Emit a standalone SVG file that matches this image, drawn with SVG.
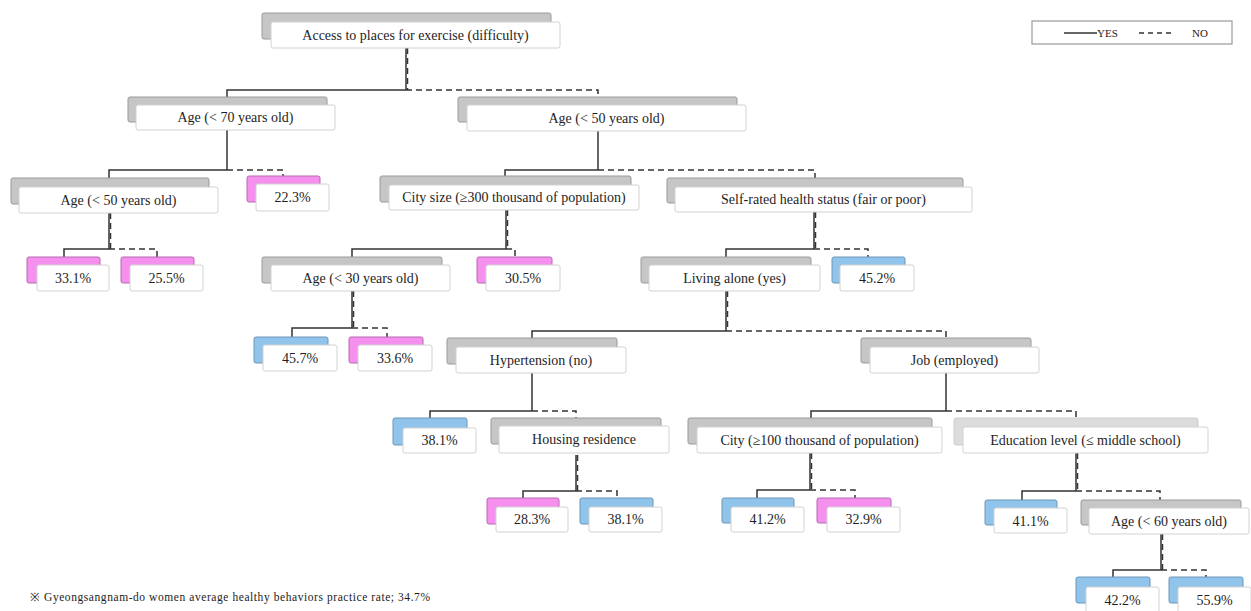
<svg xmlns="http://www.w3.org/2000/svg" width="1251" height="611" viewBox="0 0 1251 611">
<style>
.bk{fill:#c6c6c6;stroke:#9a9a9a;stroke-width:1}
.bk2{fill:#dcdcdc;stroke:#cfcfcf;stroke-width:1}
.pk{fill:#f590ee;stroke:#b56ab0;stroke-width:1}
.bl{fill:#90c4ea;stroke:#6a97b8;stroke-width:1}
.fr{fill:#ffffff;stroke:#d2d2d2;stroke-width:1}
.t{font-family:'Liberation Serif','DejaVu Serif',serif;font-size:14px;fill:#1e1e1e;text-anchor:middle}
.s{fill:none;stroke:#333;stroke-width:1.5}
.d{fill:none;stroke:#333;stroke-width:1.5;stroke-dasharray:6 4}
.lg{font-family:'Liberation Serif','DejaVu Serif',serif;font-size:11px;fill:#222}
.fn{font-family:'Liberation Serif','DejaVu Serif',serif;font-size:11.5px;fill:#222}
</style>
<rect x="0" y="0" width="1251" height="611" fill="#ffffff"/>
<g id="connectors">
<line class="s" x1="406" y1="48" x2="406" y2="90"/><line class="d" x1="407.5" y1="48" x2="407.5" y2="90"/>
<polyline class="s" points="406,90 227,90 227,97"/><polyline class="d" points="406,90 598,90 598,97"/>
<line class="s" x1="227" y1="130" x2="227" y2="170"/>
<polyline class="s" points="227,170 109,170 109,178"/><polyline class="d" points="227,170 283,170 283,176"/>
<line class="s" x1="109" y1="213" x2="109" y2="249"/><line class="d" x1="110.5" y1="213" x2="110.5" y2="249"/>
<polyline class="s" points="109,249 64,249 64,257"/><polyline class="d" points="109,249 157,249 157,257"/>
<line class="s" x1="598" y1="131" x2="598" y2="170"/>
<polyline class="s" points="598,170 505,170 505,176"/><polyline class="d" points="598,170 815,170 815,178"/>
<line class="s" x1="506" y1="210" x2="506" y2="249"/><line class="d" x1="507.5" y1="210" x2="507.5" y2="249"/>
<polyline class="s" points="506,249 352,249 352,257"/><polyline class="d" points="506,249 515,249 515,257"/>
<line class="s" x1="352" y1="291" x2="352" y2="328"/><line class="d" x1="353.5" y1="291" x2="353.5" y2="328"/>
<polyline class="s" points="352,328 292,328 292,337"/><polyline class="d" points="352,328 387,328 387,337"/>
<line class="s" x1="814" y1="212" x2="814" y2="249"/><line class="d" x1="815.5" y1="212" x2="815.5" y2="249"/>
<polyline class="s" points="814,249 726,249 726,257"/><polyline class="d" points="814,249 868,249 868,257"/>
<line class="s" x1="726" y1="291" x2="726" y2="331"/><line class="d" x1="727.5" y1="291" x2="727.5" y2="331"/>
<polyline class="s" points="726,331 532,331 532,338"/><polyline class="d" points="726,331 946,331 946,338"/>
<line class="s" x1="532" y1="373" x2="532" y2="411"/>
<polyline class="s" points="532,411 430,411 430,418"/><polyline class="d" points="532,411 576,411 576,418"/>
<line class="s" x1="576" y1="455" x2="576" y2="491"/><line class="d" x1="577.5" y1="455" x2="577.5" y2="491"/>
<polyline class="s" points="576,491 523,491 523,498"/><polyline class="d" points="576,491 617,491 617,498"/>
<line class="s" x1="946" y1="373" x2="946" y2="411"/>
<polyline class="s" points="946,411 811,411 811,418"/><polyline class="d" points="946,411 1076,411 1076,418"/>
<line class="s" x1="810" y1="453" x2="810" y2="490"/><line class="d" x1="811.5" y1="453" x2="811.5" y2="490"/>
<polyline class="s" points="810,490 757,490 757,498"/><polyline class="d" points="810,490 855,490 855,498"/>
<line class="s" x1="1076" y1="453" x2="1076" y2="491"/><line class="d" x1="1077.5" y1="453" x2="1077.5" y2="491"/>
<polyline class="s" points="1076,491 1022,491 1022,500"/><polyline class="d" points="1076,491 1160,491 1160,500"/>
<line class="s" x1="1161" y1="534" x2="1161" y2="570"/><line class="d" x1="1162.5" y1="534" x2="1162.5" y2="570"/>
<polyline class="s" points="1161,570 1113,570 1113,577"/><polyline class="d" points="1161,570 1206,570 1206,577"/>
</g>
<g id="n-root"><rect class="bk" x="262" y="13" width="289" height="26" rx="2"/><rect class="fr" x="271" y="22" width="289" height="26" rx="2"/><text class="t" x="415.5" y="40">Access to places for exercise (difficulty)</text></g>
<g id="n-age70"><rect class="bk" x="128" y="97" width="199" height="25" rx="2"/><rect class="fr" x="136" y="105" width="199" height="25" rx="2"/><text class="t" x="235.5" y="122">Age (&lt; 70 years old)</text></g>
<g id="n-age50l"><rect class="bk" x="11" y="178" width="198" height="26" rx="2"/><rect class="fr" x="19" y="187" width="199" height="26" rx="2"/><text class="t" x="118.5" y="205">Age (&lt; 50 years old)</text></g>
<g id="n-223"><rect class="pk" x="247" y="176" width="73" height="26" rx="2"/><rect class="fr" x="256" y="184" width="73" height="27" rx="2"/><text class="t" x="292.5" y="202">22.3%</text></g>
<g id="n-331"><rect class="pk" x="27" y="257" width="73" height="26" rx="2"/><rect class="fr" x="37" y="265" width="72" height="26" rx="2"/><text class="t" x="73" y="283">33.1%</text></g>
<g id="n-255"><rect class="pk" x="121" y="257" width="73" height="26" rx="2"/><rect class="fr" x="130" y="265" width="73" height="26" rx="2"/><text class="t" x="166.5" y="283">25.5%</text></g>
<g id="n-age50r"><rect class="bk" x="458" y="97" width="279" height="25" rx="2"/><rect class="fr" x="467" y="105" width="279" height="26" rx="2"/><text class="t" x="606.5" y="123">Age (&lt; 50 years old)</text></g>
<g id="n-citysize"><rect class="bk" x="380" y="176" width="251" height="26" rx="2"/><rect class="fr" x="389" y="185" width="250" height="25" rx="2"/><text class="t" x="514" y="202">City size (≥300 thousand of population)</text></g>
<g id="n-age30"><rect class="bk" x="262" y="257" width="180" height="26" rx="2"/><rect class="fr" x="271" y="265" width="179" height="26" rx="2"/><text class="t" x="360.5" y="283">Age (&lt; 30 years old)</text></g>
<g id="n-305"><rect class="pk" x="477" y="257" width="75" height="26" rx="2"/><rect class="fr" x="486" y="265" width="74" height="26" rx="2"/><text class="t" x="523" y="283">30.5%</text></g>
<g id="n-457"><rect class="bl" x="254" y="337" width="74" height="26" rx="2"/><rect class="fr" x="263" y="345" width="74" height="26" rx="2"/><text class="t" x="300" y="363">45.7%</text></g>
<g id="n-336"><rect class="pk" x="349" y="337" width="74" height="26" rx="2"/><rect class="fr" x="358" y="345" width="74" height="26" rx="2"/><text class="t" x="395" y="363">33.6%</text></g>
<g id="n-selfrated"><rect class="bk" x="667" y="178" width="296" height="25" rx="2"/><rect class="fr" x="675" y="187" width="297" height="25" rx="2"/><text class="t" x="823.5" y="204">Self-rated health status (fair or poor)</text></g>
<g id="n-living"><rect class="bk" x="641" y="257" width="170" height="26" rx="2"/><rect class="fr" x="649" y="265" width="171" height="26" rx="2"/><text class="t" x="734.5" y="283">Living alone (yes)</text></g>
<g id="n-452"><rect class="bl" x="832" y="257" width="73" height="26" rx="2"/><rect class="fr" x="840" y="265" width="74" height="26" rx="2"/><text class="t" x="877" y="283">45.2%</text></g>
<g id="n-hyper"><rect class="bk" x="447" y="338" width="170" height="26" rx="2"/><rect class="fr" x="456" y="347" width="170" height="26" rx="2"/><text class="t" x="541" y="365">Hypertension (no)</text></g>
<g id="n-381l"><rect class="bl" x="393" y="418" width="74" height="27" rx="2"/><rect class="fr" x="403" y="428" width="73" height="25" rx="2"/><text class="t" x="439.5" y="445">38.1%</text></g>
<g id="n-housing"><rect class="bk" x="491" y="418" width="170" height="26" rx="2"/><rect class="fr" x="499" y="426" width="170" height="27" rx="2"/><text class="t" x="584" y="444">Housing residence</text></g>
<g id="n-283"><rect class="pk" x="487" y="498" width="72" height="26" rx="2"/><rect class="fr" x="496" y="507" width="72" height="25" rx="2"/><text class="t" x="532" y="524">28.3%</text></g>
<g id="n-381r"><rect class="bl" x="580" y="498" width="73" height="26" rx="2"/><rect class="fr" x="589" y="507" width="73" height="25" rx="2"/><text class="t" x="625.5" y="524">38.1%</text></g>
<g id="n-job"><rect class="bk" x="861" y="338" width="170" height="25" rx="2"/><rect class="fr" x="870" y="347" width="169" height="26" rx="2"/><text class="t" x="954.5" y="365">Job (employed)</text></g>
<g id="n-city100"><rect class="bk" x="688" y="418" width="244" height="26" rx="2"/><rect class="fr" x="697" y="427" width="245" height="26" rx="2"/><text class="t" x="819.5" y="445">City (≥100 thousand of population)</text></g>
<g id="n-412"><rect class="bl" x="722" y="498" width="72" height="25" rx="2"/><rect class="fr" x="731" y="507" width="73" height="25" rx="2"/><text class="t" x="767.5" y="524">41.2%</text></g>
<g id="n-329"><rect class="pk" x="817" y="498" width="74" height="25" rx="2"/><rect class="fr" x="827" y="507" width="73" height="25" rx="2"/><text class="t" x="863.5" y="524">32.9%</text></g>
<g id="n-edu"><rect class="bk2" x="954" y="418" width="244" height="27" rx="2"/><rect class="fr" x="963" y="427" width="245" height="26" rx="2"/><text class="t" x="1085.5" y="445">Education level (≤ middle school)</text></g>
<g id="n-411"><rect class="bl" x="985" y="500" width="72" height="25" rx="2"/><rect class="fr" x="994" y="508" width="73" height="25" rx="2"/><text class="t" x="1030.5" y="526">41.1%</text></g>
<g id="n-age60"><rect class="bk" x="1081" y="500" width="160" height="25" rx="2"/><rect class="fr" x="1089" y="508" width="160" height="26" rx="2"/><text class="t" x="1169" y="526">Age (&lt; 60 years old)</text></g>
<g id="n-422"><rect class="bl" x="1076" y="577" width="74" height="26" rx="2"/><rect class="fr" x="1086" y="587" width="73" height="26" rx="2"/><text class="t" x="1122.5" y="605">42.2%</text></g>
<g id="n-559"><rect class="bl" x="1169" y="577" width="74" height="26" rx="2"/><rect class="fr" x="1178" y="587" width="73" height="26" rx="2"/><text class="t" x="1214.5" y="605">55.9%</text></g>
<g id="legend">
<rect x="1032" y="21" width="200" height="23" fill="#ffffff" stroke="#9a9a9a" stroke-width="1.2"/>
<line class="s" x1="1064" y1="33" x2="1097" y2="33"/>
<text class="lg" x="1097" y="37">YES</text>
<line class="d" x1="1139" y1="33" x2="1173" y2="33" style="stroke-dasharray:5 4"/>
<text class="lg" x="1192" y="37">NO</text>
</g>
<text class="fn" x="30" y="601" textLength="400" lengthAdjust="spacing">※ Gyeongsangnam-do women average healthy behaviors practice rate; 34.7%</text>
</svg>
